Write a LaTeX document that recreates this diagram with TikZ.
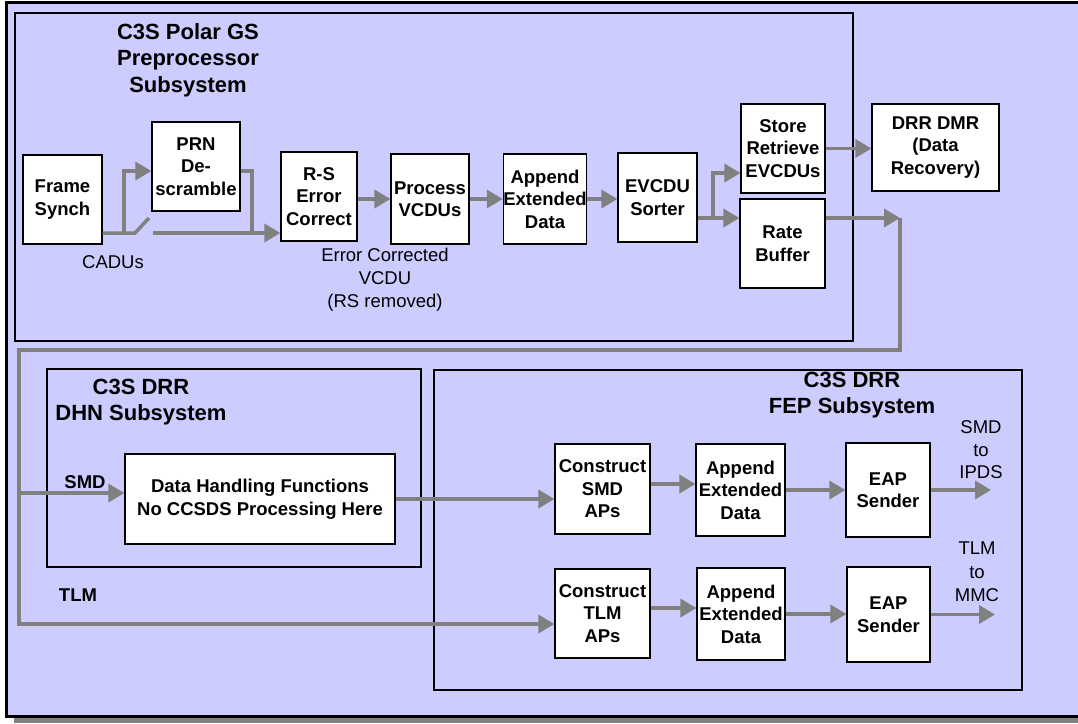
\documentclass[tikz,border=0pt]{standalone}
\usepackage{fontspec}
\setmainfont{Liberation Sans}
\usetikzlibrary{arrows.meta}

\definecolor{lavender}{RGB}{204,204,255}
\definecolor{flowgray}{RGB}{128,128,128}

\tikzstyle{block} = [draw, rectangle, fill=white, line width=1.2pt, align=center, inner sep=0pt,
                     font=\bfseries\fontsize{18.5}{22.5}\selectfont]
\tikzstyle{subsys} = [draw, line width=2pt]
\tikzstyle{pipe} = [draw=flowgray, line width=3.5pt]
\tikzstyle{flow} = [pipe, -{Triangle[length=16pt,width=18pt]}]
\tikzstyle{heading} = [align=center, font=\bfseries\fontsize{22}{26.5}\selectfont]
\tikzstyle{note} = [align=center, font=\fontsize{18.5}{23}\selectfont]

\begin{document}
\begin{tikzpicture}[x=1pt, y=-1pt]

\useasboundingbox (0,0) rectangle (1078,723);
\clip (0,0) rectangle (1078,723);

% outer panel and its shadow
\fill[flowgray] (14,8) rectangle (1090,723);
\draw[line width=3pt, fill=lavender] (6,2.5) rectangle (1090,716);

% subsystem frames
\draw[subsys] (15,13) rectangle (853,341);
\draw[subsys] (47,369) rectangle (421,567);
\draw[subsys] (434,370) rectangle (1022,690);

\node[heading] at (188,60) (ppt) {C3S Polar GS\\Preprocessor\\Subsystem};
\node[heading] at (141,402) (dhnt) {C3S DRR\\DHN Subsystem};
\node[heading] at (852,395) (fept) {C3S DRR\\FEP Subsystem};

% preprocessor chain
\node[block, minimum width=79pt, minimum height=89pt] at (62.5,199.5) (fs) {Frame\\Synch};
\node[block, minimum width=88pt, minimum height=89pt] at (196,166.5) (prn) {PRN\\De-\\scramble};
\node[block, minimum width=76pt, minimum height=89pt] at (319,196.5) (rs) {R-S\\Error\\Correct};
\node[block, minimum width=78pt, minimum height=90pt] at (430,199) (proc) {Process\\VCDUs};
\node[block, minimum width=82pt, minimum height=90pt] at (545,199) (append) {Append\\Extended\\Data};
\node[block, minimum width=79pt, minimum height=89pt] at (657.5,197.5) (sorter) {EVCDU\\Sorter};
\node[block, minimum width=84pt, minimum height=89pt] at (783,148.5) (store) {Store\\Retrieve\\EVCDUs};
\node[block, minimum width=85pt, minimum height=89pt] at (782.5,243.5) (rate) {Rate\\Buffer};
\node[block, minimum width=127pt, minimum height=87pt] at (935.5,147.5) (drr) {DRR DMR\\(Data\\Recovery)};

\node[note] at (113,262) (cadu) {CADUs};
\node[note] at (385,280) (ecv) {Error Corrected\\VCDU\\(RS removed)};

% DHN and FEP
\node[block, minimum width=270pt, minimum height=90pt] at (260,499) (dhf) {Data Handling Functions\\No CCSDS Processing Here};
\node[block, minimum width=95pt, minimum height=90pt] at (602.5,489) (csmd) {Construct\\SMD\\APs};
\node[block, minimum width=89pt, minimum height=92pt] at (740.5,490) (asmd) {Append\\Extended\\Data};
\node[block, minimum width=84pt, minimum height=94pt] at (888,490) (esmd) {EAP\\Sender};
\node[block, minimum width=95pt, minimum height=89pt] at (602.5,613.5) (ctlm) {Construct\\TLM\\APs};
\node[block, minimum width=88pt, minimum height=92pt] at (741,614) (atlm) {Append\\Extended\\Data};
\node[block, minimum width=83pt, minimum height=95pt] at (888.5,614.5) (etlm) {EAP\\Sender};

\node[note, font=\bfseries\fontsize{18.5}{23}\selectfont] at (85,482) (smdl) {SMD};
\node[note, font=\bfseries\fontsize{18.5}{23}\selectfont] at (78,595) (tlml) {TLM};
\node[note, font=\fontsize{18.5}{22.5}\selectfont] at (981,450) (smdo) {SMD\\to\\IPDS};
\node[note, font=\fontsize{18.5}{23.5}\selectfont] at (977,572) (tlmo) {TLM\\to\\MMC};

% rows and bends of the flow lines
\coordinate (cadurow) at (0,233);
\coordinate (prnrow) at (0,171);
\coordinate (fork) at (124,233);
\coordinate (sw) at (135,233);
\coordinate (swtip) at (149,218);
\coordinate (swout) at (153,233);
\coordinate (prnret) at (252,233);
\coordinate (sortrow) at (0,218);
\coordinate (storerow) at (0,173);
\coordinate (split) at (713,218);
\coordinate (loopa) at (900,218);
\coordinate (loopc) at (19,350);
\coordinate (smdrow) at (0,493);
\coordinate (tlmrow) at (0,624);
\coordinate (smdA) at (0,484);
\coordinate (tlmA) at (0,608);
\coordinate (smdout) at (991,0);
\coordinate (tlmout) at (995,0);

% CADUs through the descramble switch
\draw[pipe] (fs.east |- cadurow) -- (sw) -- (swtip);
\draw[flow] (fork) |- (prn.west |- prnrow);
\draw[pipe] (prn.east |- prnrow) -| (prnret);
\draw[flow] (swout) -- (rs.west |- cadurow);

\draw[flow] (rs.east |- proc.west) -- (proc.west);
\draw[flow] (proc.east) -- (append.west);
\draw[flow] (append.east) -- (append.east -| sorter.west);

\draw[pipe] (sorter.east |- sortrow) -- (split);
\draw[flow] (split) |- (store.west |- storerow);
\draw[flow] (split) -- (rate.west |- sortrow);
\draw[flow] (store.east) -- (store.east -| drr.west);

% rate buffer output loops down to DHN and FEP
\draw[flow] (rate.east |- sortrow) -- (loopa);
\draw[flow] (loopa) |- (loopc) |- (ctlm.west |- tlmrow);
\draw[flow] (loopc |- smdrow) -- (dhf.west |- smdrow);
\draw[flow] (dhf.east) -- (dhf.east -| csmd.west);

\draw[flow] (csmd.east |- smdA) -- (asmd.west |- smdA);
\draw[flow] (asmd.east) -- (asmd.east -| esmd.west);
\draw[flow] (esmd.east) -- (esmd.east -| smdout);

\draw[flow] (ctlm.east |- tlmA) -- (atlm.west |- tlmA);
\draw[flow] (atlm.east) -- (atlm.east -| etlm.west);
\draw[flow] (etlm.east) -- (etlm.east -| tlmout);

\end{tikzpicture}
\end{document}
